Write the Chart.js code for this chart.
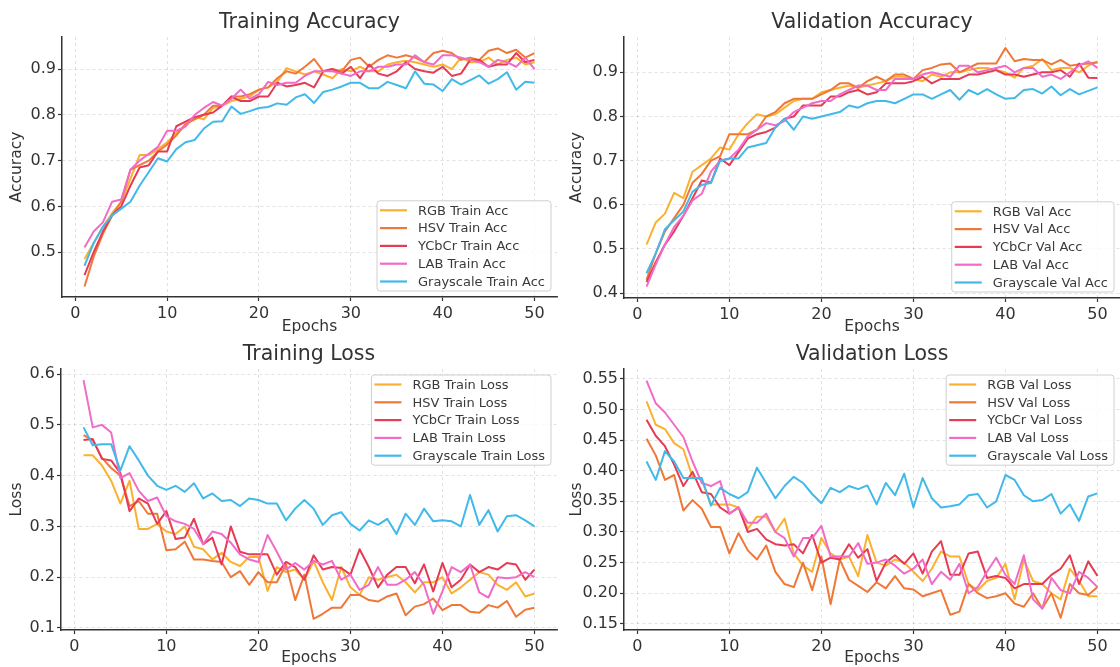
<!DOCTYPE html>
<html>
<head>
<meta charset="utf-8">
<script src="https://cdn.jsdelivr.net/npm/chart.js@4.4.1/dist/chart.umd.min.js"></script>
<style>
  html, body { margin: 0; padding: 0; background: #fff; }
  #wrap { position: relative; width: 1120px; height: 667px; overflow: hidden; }
  .panel { position: absolute; }
  .panel canvas { display: block; }
</style>
</head>
<body>
<div id="wrap">
  <div class="panel" style="left:0;top:0"><canvas id="trainAcc" width="560" height="336"></canvas></div>
  <div class="panel" style="left:560px;top:0"><canvas id="valAcc" width="560" height="336"></canvas></div>
  <div class="panel" style="left:0;top:332px"><canvas id="trainLoss" width="560" height="335"></canvas></div>
  <div class="panel" style="left:560px;top:332px"><canvas id="valLoss" width="560" height="335"></canvas></div>
</div>
<script>
// epochs on the x axis
const epochs = [1,2,3,4,5,6,7,8,9,10,11,12,13,14,15,16,17,18,19,20,21,22,23,24,25,
  26,27,28,29,30,31,32,33,34,35,36,37,38,39,40,41,42,43,44,45,46,47,48,49,50];
const xTicks = [0, 10, 20, 30, 40, 50];

const colorNames = ['RGB', 'HSV', 'YCbCr', 'LAB', 'Grayscale'];
const colors = ['#FBB130', '#EF7838', '#E63A55', '#F06CC8', '#41B9E9'];

// Training accuracy
const trainAccRGB = [0.485,0.52,0.555,0.585,0.61,0.66,0.712,0.712,0.725,0.74,
  0.76,0.775,0.795,0.79,0.815,0.82,0.83,0.835,0.84,0.855,
  0.86,0.872,0.902,0.895,0.888,0.895,0.888,0.88,0.9,0.895,
  0.905,0.895,0.895,0.91,0.915,0.918,0.915,0.91,0.905,0.91,
  0.9,0.925,0.915,0.915,0.925,0.91,0.92,0.925,0.91,0.915];
const trainAccHSV = [0.425,0.49,0.54,0.58,0.61,0.68,0.69,0.7,0.72,0.735,
  0.755,0.78,0.79,0.8,0.82,0.82,0.84,0.84,0.845,0.855,
  0.86,0.88,0.895,0.89,0.905,0.922,0.895,0.9,0.895,0.92,
  0.925,0.905,0.92,0.93,0.925,0.93,0.925,0.915,0.935,0.94,
  0.935,0.92,0.925,0.92,0.94,0.945,0.935,0.942,0.925,0.935];
const trainAccYCbCr = [0.45,0.5,0.545,0.58,0.6,0.645,0.685,0.69,0.72,0.72,
  0.775,0.785,0.795,0.8,0.805,0.82,0.84,0.83,0.83,0.84,
  0.84,0.87,0.862,0.865,0.87,0.86,0.895,0.9,0.89,0.905,
  0.88,0.91,0.89,0.885,0.895,0.915,0.9,0.895,0.892,0.905,
  0.885,0.89,0.92,0.92,0.905,0.91,0.91,0.935,0.915,0.92];
const trainAccLAB = [0.51,0.545,0.565,0.61,0.615,0.68,0.7,0.715,0.73,0.765,
  0.765,0.775,0.8,0.815,0.828,0.82,0.835,0.855,0.835,0.845,
  0.872,0.865,0.87,0.87,0.885,0.895,0.895,0.895,0.89,0.885,
  0.895,0.895,0.905,0.905,0.91,0.91,0.93,0.915,0.91,0.93,
  0.93,0.925,0.92,0.915,0.905,0.92,0.915,0.905,0.925,0.9];
const trainAccGray = [0.47,0.52,0.555,0.58,0.595,0.61,0.645,0.675,0.705,0.698,
  0.725,0.74,0.745,0.77,0.785,0.786,0.818,0.802,0.808,0.815,
  0.817,0.825,0.822,0.838,0.845,0.826,0.85,0.855,0.862,0.87,
  0.87,0.858,0.858,0.872,0.865,0.858,0.895,0.868,0.866,0.852,
  0.878,0.866,0.876,0.886,0.868,0.878,0.893,0.855,0.872,0.87];

// Validation accuracy
const valAccRGB = [0.51,0.56,0.58,0.627,0.615,0.675,0.69,0.705,0.73,0.725,
  0.76,0.785,0.805,0.8,0.805,0.82,0.835,0.84,0.84,0.855,
  0.86,0.865,0.87,0.865,0.87,0.875,0.88,0.89,0.89,0.885,
  0.88,0.895,0.89,0.9,0.9,0.905,0.91,0.91,0.905,0.9,
  0.888,0.91,0.915,0.93,0.905,0.91,0.91,0.9,0.915,0.925];
const valAccHSV = [0.43,0.49,0.54,0.57,0.6,0.65,0.67,0.7,0.71,0.76,
  0.76,0.76,0.77,0.8,0.81,0.83,0.84,0.84,0.84,0.85,
  0.86,0.875,0.875,0.865,0.88,0.89,0.88,0.895,0.895,0.885,
  0.905,0.91,0.918,0.92,0.9,0.91,0.92,0.92,0.92,0.955,
  0.925,0.93,0.928,0.928,0.918,0.928,0.915,0.918,0.92,0.922];
const valAccYCbCr = [0.425,0.47,0.51,0.54,0.575,0.615,0.655,0.65,0.705,0.69,
  0.72,0.75,0.76,0.765,0.775,0.795,0.8,0.825,0.825,0.825,
  0.845,0.845,0.855,0.86,0.85,0.855,0.875,0.875,0.875,0.88,
  0.89,0.875,0.885,0.885,0.885,0.895,0.895,0.9,0.905,0.895,
  0.895,0.89,0.895,0.9,0.9,0.905,0.89,0.92,0.888,0.887];
const valAccLAB = [0.415,0.465,0.51,0.55,0.575,0.61,0.625,0.675,0.7,0.705,
  0.725,0.755,0.77,0.785,0.78,0.79,0.81,0.82,0.83,0.835,
  0.835,0.85,0.86,0.87,0.87,0.86,0.86,0.885,0.885,0.885,
  0.895,0.9,0.895,0.89,0.915,0.915,0.9,0.905,0.91,0.915,
  0.9,0.91,0.91,0.89,0.895,0.885,0.9,0.915,0.925,0.91];
const valAccGray = [0.445,0.49,0.545,0.565,0.585,0.63,0.645,0.65,0.7,0.705,
  0.705,0.73,0.735,0.74,0.775,0.795,0.77,0.8,0.795,0.8,
  0.805,0.81,0.825,0.82,0.83,0.835,0.835,0.83,0.84,0.85,
  0.85,0.84,0.85,0.86,0.838,0.86,0.85,0.862,0.85,0.84,
  0.842,0.86,0.862,0.852,0.868,0.848,0.862,0.85,0.858,0.866];

// Training loss
const trainLossRGB = [0.44,0.44,0.42,0.39,0.345,0.39,0.295,0.295,0.305,0.29,
  0.285,0.3,0.26,0.255,0.235,0.248,0.23,0.222,0.24,0.24,
  0.173,0.22,0.21,0.215,0.195,0.232,0.19,0.155,0.22,0.18,
  0.165,0.2,0.195,0.2,0.205,0.19,0.17,0.19,0.19,0.2,
  0.168,0.18,0.195,0.21,0.205,0.185,0.175,0.19,0.162,0.168];
const trainLossHSV = [0.48,0.47,0.435,0.415,0.4,0.34,0.35,0.325,0.325,0.253,
  0.255,0.27,0.235,0.235,0.232,0.23,0.2,0.212,0.185,0.21,
  0.19,0.19,0.225,0.155,0.205,0.118,0.128,0.14,0.14,0.165,
  0.165,0.155,0.152,0.162,0.168,0.125,0.142,0.147,0.158,0.135,
  0.145,0.145,0.132,0.13,0.145,0.14,0.153,0.122,0.136,0.14];
const trainLossYCbCr = [0.47,0.472,0.433,0.43,0.405,0.33,0.355,0.345,0.305,0.33,
  0.275,0.278,0.315,0.265,0.278,0.225,0.3,0.25,0.245,0.245,
  0.245,0.205,0.23,0.22,0.195,0.243,0.215,0.22,0.218,0.205,
  0.255,0.22,0.18,0.205,0.22,0.22,0.188,0.225,0.172,0.228,
  0.18,0.195,0.225,0.21,0.22,0.215,0.228,0.225,0.195,0.215];
const trainLossLAB = [0.588,0.495,0.5,0.485,0.395,0.405,0.37,0.35,0.357,0.32,
  0.31,0.305,0.295,0.265,0.29,0.285,0.268,0.245,0.235,0.23,
  0.283,0.25,0.215,0.228,0.215,0.232,0.225,0.232,0.195,0.205,
  0.175,0.185,0.22,0.185,0.185,0.195,0.21,0.185,0.128,0.172,
  0.22,0.21,0.225,0.17,0.16,0.2,0.198,0.2,0.21,0.2];
const trainLossGray = [0.495,0.46,0.462,0.462,0.41,0.458,0.43,0.4,0.38,0.372,
  0.38,0.368,0.385,0.355,0.365,0.35,0.352,0.34,0.355,0.352,
  0.345,0.345,0.312,0.335,0.352,0.335,0.303,0.322,0.328,0.305,
  0.292,0.312,0.303,0.315,0.285,0.325,0.303,0.335,0.31,0.312,
  0.31,0.3,0.362,0.303,0.332,0.29,0.32,0.322,0.312,0.3];

// Validation loss
const valLossRGB = [0.513,0.475,0.468,0.445,0.435,0.39,0.385,0.345,0.345,0.345,
  0.34,0.305,0.325,0.325,0.3,0.322,0.265,0.245,0.235,0.29,
  0.265,0.255,0.26,0.228,0.295,0.25,0.245,0.255,0.25,0.235,
  0.22,0.24,0.268,0.26,0.26,0.215,0.205,0.22,0.225,0.248,
  0.19,0.255,0.22,0.215,0.2,0.19,0.24,0.22,0.195,0.195];
const valLossHSV = [0.452,0.425,0.385,0.393,0.335,0.352,0.338,0.308,0.308,0.265,
  0.298,0.27,0.255,0.278,0.235,0.215,0.21,0.25,0.205,0.26,
  0.182,0.255,0.222,0.212,0.202,0.218,0.208,0.228,0.208,0.206,
  0.195,0.2,0.205,0.165,0.17,0.215,0.2,0.192,0.195,0.2,
  0.183,0.178,0.2,0.175,0.2,0.16,0.215,0.2,0.197,0.21];
const valLossYCbCr = [0.483,0.457,0.44,0.41,0.375,0.398,0.365,0.362,0.34,0.33,
  0.34,0.3,0.305,0.288,0.28,0.278,0.28,0.265,0.295,0.25,
  0.258,0.255,0.28,0.258,0.272,0.22,0.25,0.262,0.248,0.265,
  0.232,0.268,0.285,0.23,0.23,0.265,0.268,0.225,0.228,0.225,
  0.208,0.215,0.215,0.215,0.23,0.24,0.262,0.215,0.252,0.228];
const valLossLAB = [0.547,0.51,0.495,0.475,0.455,0.415,0.38,0.375,0.383,0.33,
  0.34,0.315,0.315,0.33,0.3,0.29,0.26,0.29,0.29,0.31,
  0.26,0.26,0.26,0.282,0.248,0.25,0.255,0.245,0.232,0.24,
  0.255,0.215,0.235,0.222,0.248,0.2,0.21,0.235,0.258,0.23,
  0.215,0.262,0.19,0.175,0.225,0.205,0.2,0.235,0.225,0.21];
const valLossGray = [0.415,0.385,0.432,0.415,0.388,0.388,0.388,0.343,0.372,0.362,
  0.355,0.365,0.405,0.38,0.355,0.375,0.39,0.38,0.362,0.347,
  0.372,0.365,0.375,0.37,0.376,0.345,0.38,0.36,0.395,0.34,
  0.388,0.355,0.34,0.342,0.345,0.36,0.362,0.34,0.35,0.393,
  0.385,0.36,0.35,0.352,0.362,0.33,0.345,0.318,0.358,0.363];

// y tick labels
const accTicksTrain = [0.5, 0.6, 0.7, 0.8, 0.9];
const accTicksVal = [0.4, 0.5, 0.6, 0.7, 0.8, 0.9];
const lossTicksTrain = [0.1, 0.2, 0.3, 0.4, 0.5, 0.6];
const lossTicksVal = [0.15, 0.20, 0.25, 0.30, 0.35, 0.40, 0.45, 0.50, 0.55];

Chart.defaults.font.family = "'DejaVu Sans', sans-serif";
Chart.defaults.color = '#333';
Chart.defaults.animation = false;

// legend drawn inside the plot, matplotlib style
const insideLegend = {
  id: 'insideLegend',
  afterDatasetsDraw(chart, args, opts) {
    const { ctx, chartArea } = chart;
    const sets = chart.data.datasets;
    ctx.save();
    ctx.font = '13px "DejaVu Sans"';
    const textW = Math.max(...sets.map(d => ctx.measureText(d.label).width));
    const rowH = 17.8, padY = 9.5;
    const w = 41 + textW + 6;
    const h = padY * 2 + rowH * (sets.length - 1);
    const x = chartArea.right - 6 - w;
    const y = opts.where === 'lower' ? chartArea.bottom - 6 - h : chartArea.top + 6;
    const r = 3;
    ctx.beginPath();
    ctx.moveTo(x + r, y);
    ctx.arcTo(x + w, y, x + w, y + h, r);
    ctx.arcTo(x + w, y + h, x, y + h, r);
    ctx.arcTo(x, y + h, x, y, r);
    ctx.arcTo(x, y, x + w, y, r);
    ctx.closePath();
    ctx.fillStyle = 'rgba(255,255,255,0.8)';
    ctx.fill();
    ctx.strokeStyle = '#cfcfcf';
    ctx.lineWidth = 1;
    ctx.stroke();
    ctx.textBaseline = 'middle';
    sets.forEach((d, i) => {
      const cy = y + padY + rowH * i;
      ctx.strokeStyle = d.borderColor;
      ctx.lineWidth = 2.2;
      ctx.beginPath();
      ctx.moveTo(x + 3, cy);
      ctx.lineTo(x + 30, cy);
      ctx.stroke();
      ctx.fillStyle = '#3a3a3a';
      ctx.fillText(d.label, x + 41, cy + 1);
    });
    ctx.restore();
  }
};

function makeChart(id, title, yTitle, suffix, series, yMin, yMax, yTicks, decimals, where, yWidth, xHeight, padRight) {
  const datasets = series.map((vals, i) => ({
    label: colorNames[i] + suffix,
    data: epochs.map((e, j) => ({ x: e, y: vals[j] })),
    borderColor: colors[i],
    borderWidth: 2,
    pointRadius: 0,
    tension: 0,
    borderJoinStyle: 'round',
    order: series.length - i
  }));

  new Chart(document.getElementById(id), {
    type: 'line',
    data: { datasets },
    options: {
      responsive: false,
      layout: { padding: { right: padRight } },
      plugins: {
        legend: { display: false },
        tooltip: { enabled: false },
        title: {
          display: true,
          text: title,
          fullSize: false,
          color: '#333',
          font: { size: 20.5, weight: 'normal' },
          padding: { top: 10, bottom: 2.4 }
        },
        insideLegend: { where }
      },
      scales: {
        x: {
          type: 'linear',
          min: -1.45,
          max: 52.45,
          afterBuildTicks: s => { s.ticks = xTicks.map(v => ({ value: v })); },
          afterFit: s => { s.height = xHeight; },
          ticks: { font: { size: 16 }, color: '#333', padding: 3, maxRotation: 0 },
          grid: { color: 'rgba(0,0,0,0.15)', lineWidth: 0.8, tickColor: '#333', tickLength: 4, tickWidth: 1.2 },
          border: { color: '#333', width: 1.5, dash: [3, 3] },
          title: { display: true, text: 'Epochs', font: { size: 15.5 }, color: '#333', padding: { top: 0, bottom: 0 } }
        },
        y: {
          min: yMin,
          max: yMax,
          afterBuildTicks: s => { s.ticks = yTicks.map(v => ({ value: v })); },
          afterFit: s => { s.width = yWidth; },
          ticks: { font: { size: 16 }, color: '#333', padding: 2, callback: v => v.toFixed(decimals) },
          grid: { color: 'rgba(0,0,0,0.15)', lineWidth: 0.8, tickColor: '#333', tickLength: 4, tickWidth: 1.2 },
          border: { color: '#333', width: 1.5, dash: [3, 3] },
          title: { display: true, text: yTitle, font: { size: 15.5 }, color: '#333', padding: { top: 8, bottom: 0 } }
        }
      }
    },
    plugins: [insideLegend]
  });
}

makeChart('trainAcc', 'Training Accuracy', 'Accuracy', ' Train Acc',
  [trainAccRGB, trainAccHSV, trainAccYCbCr, trainAccLAB, trainAccGray],
  0.402, 0.97, accTicksTrain, 1, 'lower', 62, 39, 3);
makeChart('valAcc', 'Validation Accuracy', 'Accuracy', ' Val Acc',
  [valAccRGB, valAccHSV, valAccYCbCr, valAccLAB, valAccGray],
  0.389, 0.98, accTicksVal, 1, 'lower', 64, 38, 0);
makeChart('trainLoss', 'Training Loss', 'Loss', ' Train Loss',
  [trainLossRGB, trainLossHSV, trainLossYCbCr, trainLossLAB, trainLossGray],
  0.096, 0.61, lossTicksTrain, 1, 'upper', 61, 37, 3);
makeChart('valLoss', 'Validation Loss', 'Loss', ' Val Loss',
  [valLossRGB, valLossHSV, valLossYCbCr, valLossLAB, valLossGray],
  0.14, 0.566, lossTicksVal, 2, 'upper', 64, 37, 0);
</script>
</body>
</html>
